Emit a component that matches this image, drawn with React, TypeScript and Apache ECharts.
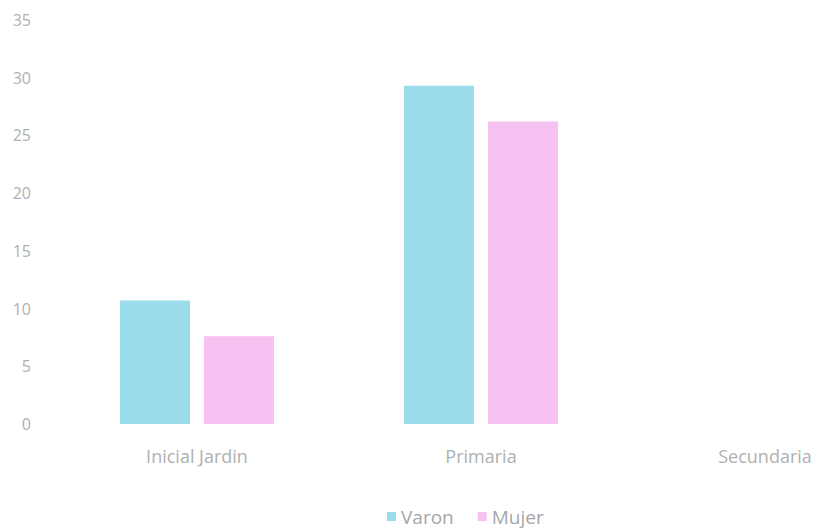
import React, { useEffect, useRef } from "react";
import * as echarts from "echarts";

const categories = ["Inicial Jardin", "Primaria", "Secundaria"];
const varon = [10.7, 29.3, null];
const mujer = [7.6, 26.2, null];
const seriesNames = ["Varon", "Mujer"];

export default function App() {
  const ref = useRef<HTMLDivElement>(null);
  useEffect(() => {
    if (!ref.current) return;
    const chart = echarts.init(ref.current, null, { renderer: "svg" });
    const font = "'Open Sans', 'Liberation Sans', sans-serif";
    chart.setOption({
      animation: false,
      backgroundColor: "#ffffff",
      textStyle: { fontFamily: font },
      grid: { left: 55, right: 13, top: 20, height: 404 },
      legend: {
        data: seriesNames,
        left: 382,
        top: 502,
        itemWidth: 9,
        itemHeight: 9,
        itemGap: 24,
        icon: "rect",
        textStyle: { color: "#a6a6a6", fontSize: 19, fontFamily: font },
      },
      xAxis: {
        type: "category",
        data: categories,
        axisLine: { show: false },
        axisTick: { show: false },
        axisLabel: { color: "#b0b0b0", fontSize: 18, margin: 23, fontFamily: font },
      },
      yAxis: {
        type: "value",
        min: 0,
        max: 35,
        interval: 5,
        splitLine: { show: false },
        axisLine: { show: false },
        axisTick: { show: false },
        axisLabel: { color: "#b0b0b0", fontSize: 16, margin: 24, fontFamily: font },
      },
      series: [
        {
          name: seriesNames[0],
          type: "bar",
          data: varon,
          barWidth: 70,
          barGap: "20%",
          itemStyle: { color: "#9bdcec" },
        },
        {
          name: seriesNames[1],
          type: "bar",
          data: mujer,
          barWidth: 70,
          barGap: "20%",
          itemStyle: { color: "#f7c1f1" },
        },
      ],
    });
    return () => chart.dispose();
  }, []);
  return (
    <div
      style={{ position: "fixed", left: 0, top: 0, width: 829, height: 528, overflow: "hidden" }}
    >
      <div ref={ref} style={{ width: 920, height: 528 }} />
    </div>
  );
}
